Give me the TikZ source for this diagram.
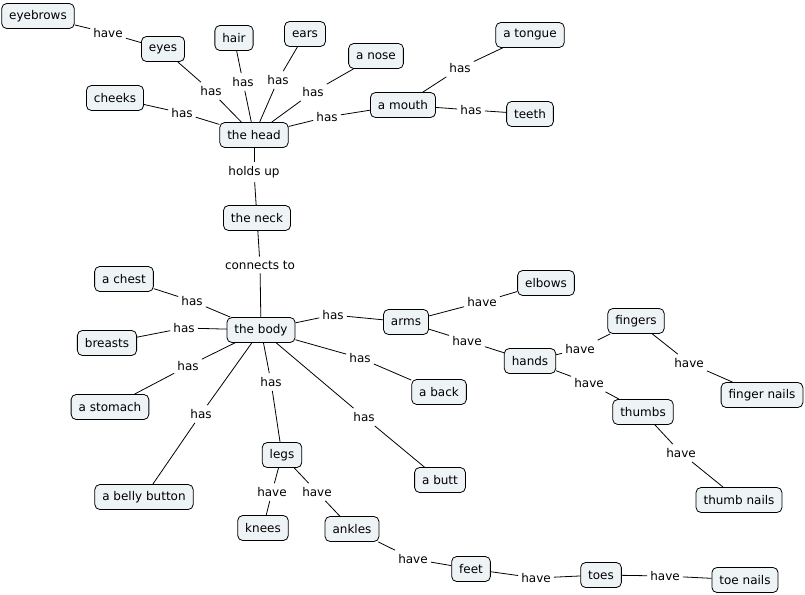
\documentclass[tikz,border=0pt]{standalone}
\usepackage{fontspec}
\setmainfont{DejaVu Sans}
\definecolor{boxfill}{RGB}{238,243,245}
\newcommand\conlink[3]{\draw[conn] (#1) -- (#2); \draw[conn] (#2) -- (#3);}
\begin{document}
\begin{tikzpicture}[x=1pt,y=-1pt,
  concept/.style={draw=black, line width=0.8pt, rounded corners=5pt, fill=boxfill,
    minimum height=25pt, inner xsep=7.5pt, inner ysep=2pt, font=\fontsize{12}{14}\selectfont},
  phrase/.style={inner xsep=3pt, inner ysep=4pt, font=\fontsize{12}{14}\selectfont},
  conn/.style={line width=0.8pt}]
\useasboundingbox (0,0) rectangle (805,594);
% concepts
\node[concept] (eyebrows) at (38,16) {eyebrows};
\node[concept] (eyes) at (163,49) {eyes};
\node[concept] (hair) at (234,38) {hair};
\node[concept] (ears) at (305,34) {ears};
\node[concept] (nose) at (376,56) {a nose};
\node[concept] (tongue) at (530,35) {a tongue};
\node[concept] (cheeks) at (115,98) {cheeks};
\node[concept] (mouth) at (403,105) {a mouth};
\node[concept] (teeth) at (530,114) {teeth};
\node[concept] (head) at (254,135) {the head};
\node[concept] (neck) at (257,218) {the neck};
\node[concept] (chest) at (124,279) {a chest};
\node[concept] (body) at (261,330) {the body};
\node[concept] (breasts) at (107,343) {breasts};
\node[concept] (arms) at (406,322) {arms};
\node[concept] (elbows) at (546,283) {elbows};
\node[concept] (fingers) at (636,321) {fingers};
\node[concept] (hands) at (530,361) {hands};
\node[concept] (fnails) at (762,395) {finger nails};
\node[concept] (back) at (439,392) {a back};
\node[concept] (stomach) at (110,407) {a stomach};
\node[concept] (thumbs) at (643,412) {thumbs};
\node[concept] (legs) at (282,455) {legs};
\node[concept] (belly) at (144,497) {a belly button};
\node[concept] (butt) at (440,480) {a butt};
\node[concept] (tnails) at (739,500) {thumb nails};
\node[concept] (knees) at (263,528) {knees};
\node[concept] (ankles) at (352,529) {ankles};
\node[concept] (feet) at (471,569) {feet};
\node[concept] (toes) at (601,575) {toes};
\node[concept] (toenails) at (745,580) {toe nails};
% linking phrases
\node[phrase] (p1) at (108,33) {have};
\node[phrase] (p2) at (211,91) {has};
\node[phrase] (p3) at (243,82) {has};
\node[phrase] (p4) at (278,80) {has};
\node[phrase] (p5) at (313,92) {has};
\node[phrase] (p6) at (182,113) {has};
\node[phrase] (p7) at (327,117) {has};
\node[phrase] (p8) at (460,68) {has};
\node[phrase] (p9) at (471,110) {has};
\node[phrase] (p10) at (254,172) {holds up};
\node[phrase] (p11) at (260,265) {connects to};
\node[phrase] (p12) at (192,301) {has};
\node[phrase] (p13) at (184,328) {has};
\node[phrase] (p14) at (188,366) {has};
\node[phrase] (p15) at (201,414) {has};
\node[phrase] (p16) at (271,382) {has};
\node[phrase] (p17) at (364,417) {has};
\node[phrase] (p18) at (360,358) {has};
\node[phrase] (p19) at (333,315) {has};
\node[phrase] (p20) at (482,302) {have};
\node[phrase] (p21) at (467,341) {have};
\node[phrase] (p22) at (580,349) {have};
\node[phrase] (p23) at (589,383) {have};
\node[phrase] (p24) at (689,363) {have};
\node[phrase] (p25) at (681,453) {have};
\node[phrase] (p26) at (272,492) {have};
\node[phrase] (p27) at (317,492) {have};
\node[phrase] (p28) at (413,559) {have};
\node[phrase] (p29) at (536,578) {have};
\node[phrase] (p30) at (665,576) {have};
% connectors
\conlink{eyes}{p1}{eyebrows}
\conlink{head}{p2}{eyes}
\conlink{head}{p3}{hair}
\conlink{head}{p4}{ears}
\conlink{head}{p5}{nose}
\conlink{head}{p6}{cheeks}
\conlink{head}{p7}{mouth}
\conlink{mouth}{p8}{tongue}
\conlink{mouth}{p9}{teeth}
\conlink{head}{p10}{neck}
\conlink{neck}{p11}{body}
\conlink{body}{p12}{chest}
\conlink{body}{p13}{breasts}
\conlink{body}{p14}{stomach}
\conlink{body}{p15}{belly}
\conlink{body}{p16}{legs}
\conlink{body}{p17}{butt}
\conlink{body}{p18}{back}
\conlink{body}{p19}{arms}
\conlink{arms}{p20}{elbows}
\conlink{arms}{p21}{hands}
\conlink{hands}{p22}{fingers}
\conlink{hands}{p23}{thumbs}
\conlink{fingers}{p24}{fnails}
\conlink{thumbs}{p25}{tnails}
\conlink{legs}{p26}{knees}
\conlink{legs}{p27}{ankles}
\conlink{ankles}{p28}{feet}
\conlink{feet}{p29}{toes}
\conlink{toes}{p30}{toenails}
\end{tikzpicture}
\end{document}
